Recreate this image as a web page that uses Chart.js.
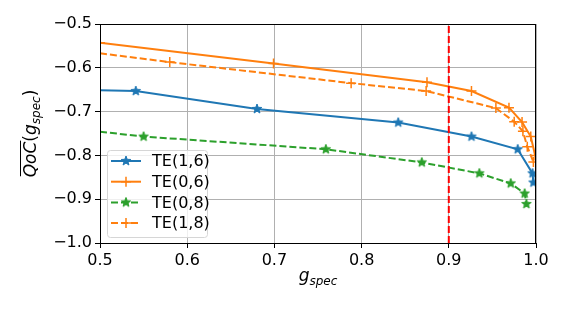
<!DOCTYPE html>
<html>
<head>
<meta charset="utf-8">
<script src="https://cdn.jsdelivr.net/npm/chart.js@4/dist/chart.umd.min.js"></script>
<style>
  html, body { margin: 0; padding: 0; background: #fff; }
  #wrap { width: 564px; height: 317px; }
</style>
</head>
<body>
<div id="wrap"><canvas id="chart" width="564" height="317"></canvas></div>
<script>
// values (first point of some series sits on the left edge, no marker shown)
const xTE16 = [0.5, 0.541, 0.680, 0.842, 0.926, 0.979, 0.996, 0.997];
const yTE16 = [-0.651, -0.653, -0.694, -0.725, -0.757, -0.786, -0.841, -0.862];

const xTE06 = [0.5, 0.699, 0.875, 0.926, 0.969, 0.984, 0.994, 0.999];
const yTE06 = [-0.543, -0.590, -0.633, -0.653, -0.691, -0.724, -0.757, -0.800];

const xTE08 = [0.5, 0.550, 0.759, 0.869, 0.935, 0.971, 0.987, 0.989];
const yTE08 = [-0.746, -0.757, -0.786, -0.816, -0.841, -0.864, -0.887, -0.911];

const xTE18 = [0.5, 0.580, 0.788, 0.874, 0.954, 0.975, 0.985, 0.990, 0.997];
const yTE18 = [-0.567, -0.587, -0.635, -0.653, -0.692, -0.723, -0.745, -0.780, -0.815];

const seriesLabels = ['TE(1,6)', 'TE(0,6)', 'TE(0,8)', 'TE(1,8)'];
const gThreshold = 0.9;

const xTicks = [0.5, 0.6, 0.7, 0.8, 0.9, 1.0];
const yTicks = [-1.0, -0.9, -0.8, -0.7, -0.6, -0.5];

const BLUE = '#1f77b4', ORANGE = '#ff7f0e', GREEN = '#2ca02c';
const FONT = "'DejaVu Sans', sans-serif";

// filled 5-point star like matplotlib '*'
function makeStar(color, r) {
    const c = document.createElement('canvas');
    const s = Math.ceil(r * 2 + 2);
    c.width = s; c.height = s;
    const g = c.getContext('2d');
    g.translate(s / 2, s / 2);
    g.beginPath();
    for (let i = 0; i < 10; i++) {
        const rad = i % 2 === 0 ? r : r * 0.42;
        const a = -Math.PI / 2 + i * Math.PI / 5;
        g.lineTo(Math.cos(a) * rad, Math.sin(a) * rad);
    }
    g.closePath();
    g.fillStyle = color;
    g.fill();
    g.strokeStyle = color;
    g.lineWidth = 1;
    g.stroke();
    return c;
}

const blueStar = makeStar(BLUE, 5);
const greenStar = makeStar(GREEN, 5);

function pts(xs, ys) {
    return xs.map((x, i) => ({ x: x, y: ys[i] }));
}

function makeDataset(label, xs, ys, color, style, dashed, hideFirst) {
    const isPlus = style === 'cross';
    return {
        label: label,
        data: pts(xs, ys),
        borderColor: color,
        backgroundColor: color,
        borderWidth: 2,
        borderDash: dashed ? [7, 3] : [],
        pointStyle: style,
        pointRadius: ctx => (hideFirst && ctx.dataIndex === 0) ? 0 : 5,
        pointBorderWidth: isPlus ? 1.5 : 0,
        pointBorderColor: color,
        pointHoverRadius: 5,
        tension: 0,
        fill: false
    };
}

// red threshold line + frame + legend + axis titles
const extras = {
    id: 'extras',
    afterDatasetsDraw(chart) {
        const { ctx, chartArea: a, scales } = chart;
        const px = scales.x.getPixelForValue(gThreshold);
        ctx.save();
        ctx.beginPath();
        ctx.rect(a.left, a.top, a.right - a.left, a.bottom - a.top);
        ctx.clip();
        ctx.strokeStyle = '#ff0000';
        ctx.lineWidth = 2;
        ctx.setLineDash([7, 3]);
        ctx.beginPath();
        ctx.moveTo(px, a.bottom);
        ctx.lineTo(px, a.top);
        ctx.stroke();
        ctx.restore();
    },
    afterDraw(chart) {
        const { ctx, chartArea: a } = chart;
        ctx.save();
        // axes frame
        ctx.strokeStyle = '#000';
        ctx.lineWidth = 1;
        ctx.strokeRect(Math.round(a.left) + 0.5, Math.round(a.top) + 0.5,
            Math.round(a.right - a.left) - 1, Math.round(a.bottom - a.top));

        // legend
        const bx = 107, by = 150, bw = 100, bh = 87;
        ctx.fillStyle = 'rgba(255,255,255,0.8)';
        ctx.strokeStyle = '#d6d6d6';
        ctx.lineWidth = 1;
        ctx.beginPath();
        ctx.roundRect(bx + 0.5, by + 0.5, bw, bh, 3);
        ctx.fill();
        ctx.stroke();
        ctx.font = '16px ' + FONT;
        ctx.textBaseline = 'middle';
        chart.data.datasets.forEach((ds, i) => {
            const y = 161 + i * 20.7;
            ctx.strokeStyle = ds.borderColor;
            ctx.lineWidth = 2;
            ctx.setLineDash(ds.borderDash);
            ctx.beginPath();
            ctx.moveTo(111, y);
            ctx.lineTo(141, y);
            ctx.stroke();
            ctx.setLineDash([]);
            if (ds.pointStyle === 'cross') {
                ctx.lineWidth = 1.5;
                ctx.beginPath();
                ctx.moveTo(126 - 5, y); ctx.lineTo(126 + 5, y);
                ctx.moveTo(126, y - 5); ctx.lineTo(126, y + 5);
                ctx.stroke();
            } else {
                const img = ds.pointStyle;
                ctx.drawImage(img, 126 - img.width / 2, y - img.height / 2);
            }
            ctx.fillStyle = '#000';
            ctx.textAlign = 'left';
            ctx.fillText(ds.label, 152, y + 1);
        });

        // x axis title: g_spec
        ctx.fillStyle = '#000';
        ctx.strokeStyle = '#000';
        ctx.textBaseline = 'alphabetic';
        ctx.textAlign = 'left';
        const cx = (a.left + a.right) / 2;
        ctx.font = 'italic 17px ' + FONT;
        const gw = ctx.measureText('g').width;
        ctx.font = 'italic 12px ' + FONT;
        const sw = ctx.measureText('spec').width;
        let x0 = cx - (gw + sw) / 2;
        ctx.font = 'italic 17px ' + FONT;
        ctx.fillText('g', x0, 281);
        ctx.font = 'italic 12px ' + FONT;
        ctx.fillText('spec', x0 + gw, 285);

        // y axis title: overline{QoC}(g_spec)
        ctx.translate(36, (a.top + a.bottom) / 2);
        ctx.rotate(-Math.PI / 2);
        const parts = [
            { t: 'QoC', f: 'italic 17px ', dy: 0 },
            { t: '(', f: '17px ', dy: 0 },
            { t: 'g', f: 'italic 17px ', dy: 0 },
            { t: 'spec', f: 'italic 12px ', dy: 4 },
            { t: ')', f: '17px ', dy: 0 }
        ];
        let total = 0;
        parts.forEach(p => { ctx.font = p.f + FONT; p.w = ctx.measureText(p.t).width; total += p.w; });
        let px = -total / 2;
        parts.forEach((p, i) => {
            ctx.font = p.f + FONT;
            ctx.fillText(p.t, px, p.dy);
            if (i === 0) {
                ctx.strokeStyle = '#000';
                ctx.lineWidth = 1;
                ctx.beginPath();
                ctx.moveTo(px + 1, -15.5);
                ctx.lineTo(px + p.w + 1, -15.5);
                ctx.stroke();
            }
            px += p.w;
        });
        ctx.restore();
    }
};

const datasets = [
    makeDataset(seriesLabels[0], xTE16, yTE16, BLUE, blueStar, false, true),
    makeDataset(seriesLabels[1], xTE06, yTE06, ORANGE, 'cross', false, false),
    makeDataset(seriesLabels[2], xTE08, yTE08, GREEN, greenStar, true, true),
    makeDataset(seriesLabels[3], xTE18, yTE18, ORANGE, 'cross', true, true)
];

Chart.defaults.color = '#000';
Chart.defaults.font.family = FONT;

new Chart(document.getElementById('chart'), {
    type: 'line',
    data: { datasets: datasets },
    options: {
        responsive: false,
        animation: false,
        events: [],
        layout: { padding: { left: 0, right: 28, top: 24, bottom: 0 } },
        plugins: {
            legend: { display: false },
            tooltip: { enabled: false }
        },
        scales: {
            x: {
                type: 'linear',
                min: 0.5,
                max: 1.0,
                afterFit: s => { s.height = 74; },
                afterBuildTicks: s => { s.ticks = xTicks.map(v => ({ value: v })); },
                grid: { color: '#b0b0b0', lineWidth: 1, tickColor: '#000', tickLength: 5, drawTicks: true },
                border: { display: false },
                ticks: {
                    font: { size: 16 },
                    padding: 3,
                    maxRotation: 0,
                    callback: v => Number(v).toFixed(1)
                }
            },
            y: {
                type: 'linear',
                min: -1.0,
                max: -0.5,
                afterFit: s => { s.width = 100; },
                afterBuildTicks: s => { s.ticks = yTicks.map(v => ({ value: v })); },
                grid: { color: '#b0b0b0', lineWidth: 1, tickColor: '#000', tickLength: 5, drawTicks: true },
                border: { display: false },
                ticks: {
                    font: { size: 16 },
                    padding: 3,
                    callback: v => Number(v).toFixed(1).replace('-', '\u2212')
                }
            }
        }
    },
    plugins: [extras]
});
</script>
</body>
</html>
